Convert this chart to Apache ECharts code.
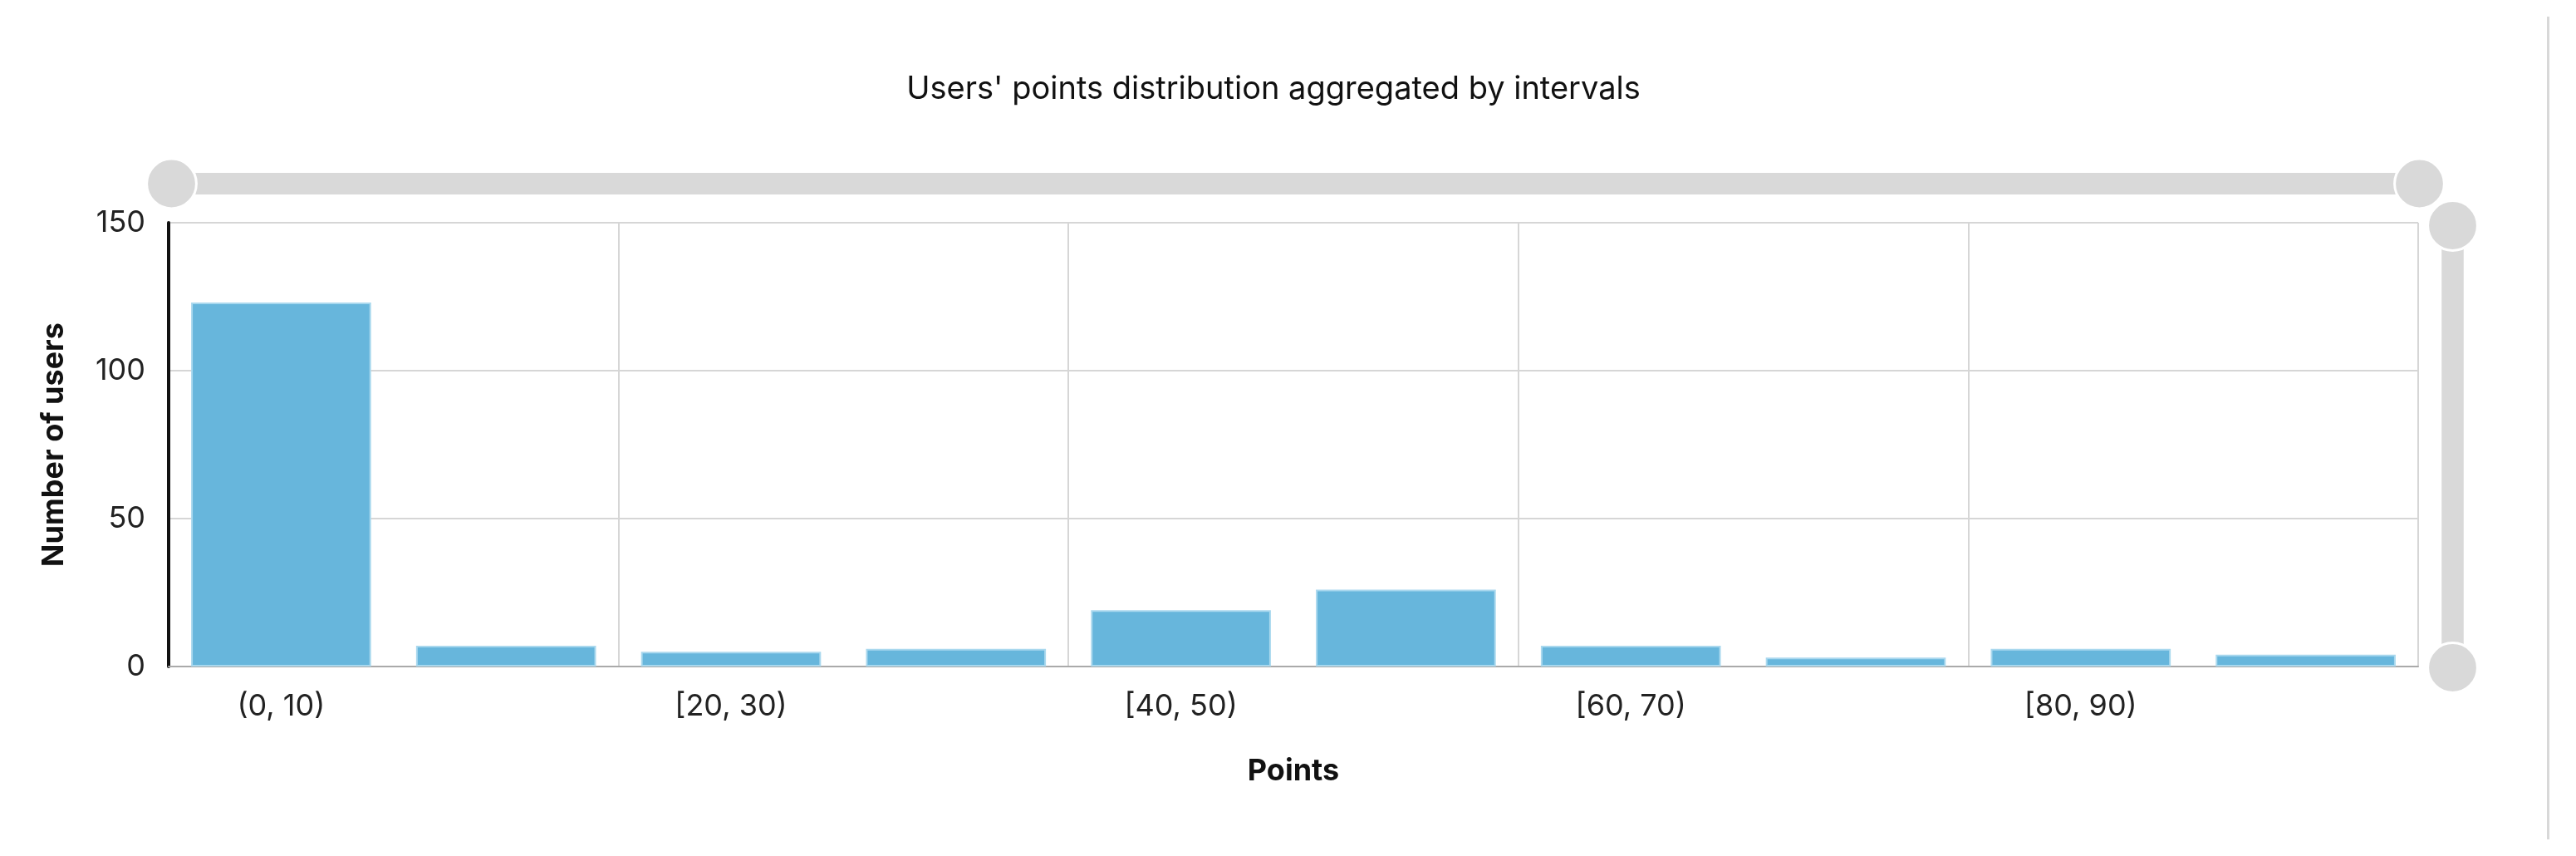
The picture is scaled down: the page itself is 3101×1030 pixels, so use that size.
<!DOCTYPE html>
<html><head><meta charset="utf-8">
<script src="https://cdn.jsdelivr.net/npm/echarts@6/dist/echarts.min.js"></script>
<style>html,body{margin:0;padding:0;background:#fff}#c{width:3101px;height:1030px}
#b{position:absolute;left:3066px;top:20px;width:3px;height:990px;background:#d8d8d8}</style>
</head><body><div id="c"></div><div id="b"></div>
<script>
const categories = ['(0, 10)','[10, 20)','[20, 30)','[30, 40)','[40, 50)','[50, 60)','[60, 70)','[70, 80)','[80, 90)','[90, 100]'];
const users = [123, 7, 5, 6, 19, 26, 7, 3, 6, 4];
const chart = echarts.init(document.getElementById('c'));
const F = 'Inter, "Noto Sans", sans-serif';
chart.setOption({
  animation:false,
  title:{text:"Users' points distribution aggregated by intervals", left:1528, textAlign:'center', top:84,
    textStyle:{fontFamily:F,fontSize:38,fontWeight:'normal',color:'#111'}},
  grid:{left:203,right:190,top:268,bottom:228},
  xAxis:{type:'category',data:categories,
    name:'Points',nameLocation:'middle',nameGap:108,
    nameTextStyle:{fontFamily:F,fontSize:36,fontWeight:'bold',color:'#111'},
    axisLine:{lineStyle:{color:'#aaa',width:2}},
    axisTick:{show:false,alignWithLabel:true,interval:1},
    axisLabel:{interval:1,fontFamily:F,fontSize:36,color:'#222',margin:30},
    splitLine:{show:true,interval:1,lineStyle:{color:'#d6d6d6',width:2}}},
  yAxis:{type:'value',min:0,max:150,interval:50,
    name:'Number of users',nameLocation:'middle',nameGap:120,
    nameTextStyle:{fontFamily:F,fontSize:36,fontWeight:'bold',color:'#111'},
    axisLine:{show:true,lineStyle:{color:'#111',width:4}},
    axisLabel:{fontFamily:F,fontSize:36,color:'#222',margin:28},
    splitLine:{lineStyle:{color:'#d6d6d6',width:2}}},
  dataZoom:[
    {type:'slider',xAxisIndex:0,top:208,left:203,right:190,height:26,
     showDetail:false,brushSelect:false,borderColor:'transparent',backgroundColor:'#d9d9d9',
     fillerColor:'#d9d9d9',dataBackground:{lineStyle:{opacity:0},areaStyle:{opacity:0}},
     selectedDataBackground:{lineStyle:{opacity:0},areaStyle:{opacity:0}},
     handleIcon:'circle',handleSize:'230%',handleStyle:{color:'#d9d9d9',borderColor:'#fff',borderWidth:3},
     moveHandleSize:0},
    {type:'slider',yAxisIndex:0,left:2938,width:26,top:268,bottom:228,
     showDetail:false,brushSelect:false,borderColor:'transparent',backgroundColor:'#d9d9d9',
     fillerColor:'#d9d9d9',dataBackground:{lineStyle:{opacity:0},areaStyle:{opacity:0}},
     selectedDataBackground:{lineStyle:{opacity:0},areaStyle:{opacity:0}},
     handleIcon:'circle',handleSize:'230%',handleStyle:{color:'#d9d9d9',borderColor:'#fff',borderWidth:3},
     moveHandleSize:0}
  ],
  series:[{type:'bar',data:users,barCategoryGap:'20%',
    itemStyle:{color:'#67b6dc',borderColor:'#a9d8ee',borderWidth:2}}]
});
</script></body></html>
